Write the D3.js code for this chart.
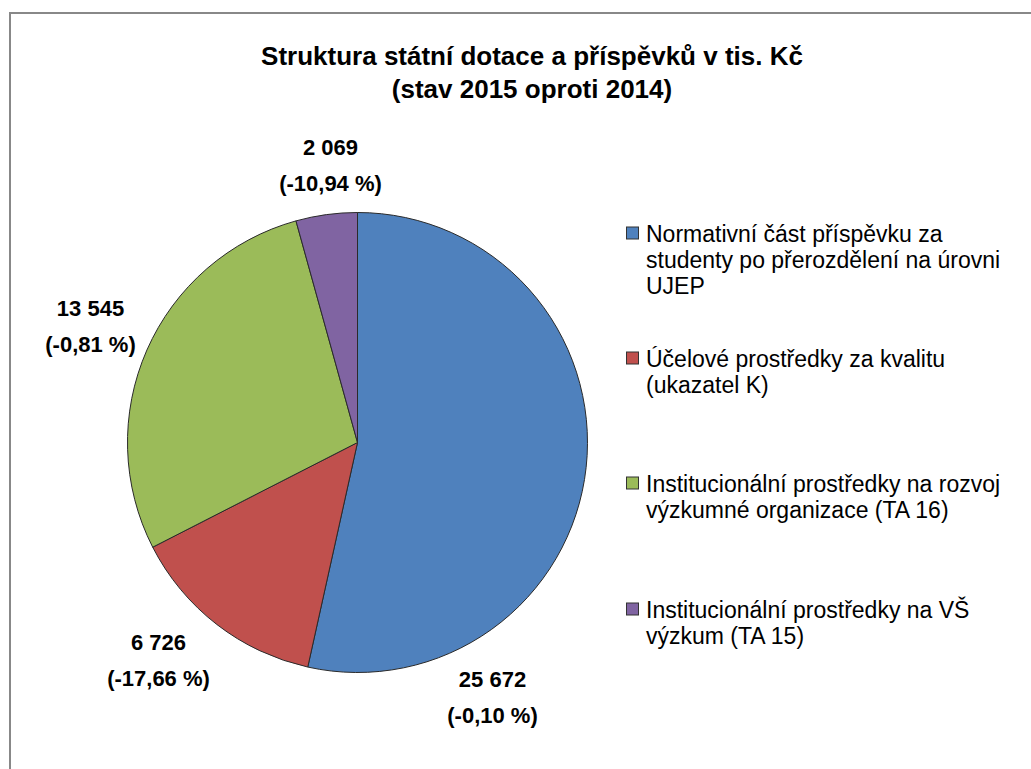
<!DOCTYPE html>
<html>
<head>
<meta charset="utf-8">
<script src="https://cdn.jsdelivr.net/npm/d3@7"></script>
<style>
  html, body { margin: 0; padding: 0; background: #fff; }
  svg { display: block; }
  text { font-family: "Liberation Sans", Arial, sans-serif; fill: #000; }
</style>
</head>
<body>
<svg id="chart" width="1031" height="769"></svg>
<script>
// ---- data ----
const titleLines = ["Struktura státní dotace a příspěvků v tis. Kč", "(stav 2015 oproti 2014)"];
const categories = [
  "Normativní část příspěvku za studenty po přerozdělení na úrovni UJEP",
  "Účelové prostředky za kvalitu (ukazatel K)",
  "Institucionální prostředky na rozvoj výzkumné organizace (TA 16)",
  "Institucionální prostředky na VŠ výzkum (TA 15)"
];
const legendLines = [
  ["Normativní část příspěvku za", "studenty po přerozdělení na úrovni", "UJEP"],
  ["Účelové prostředky za kvalitu", "(ukazatel K)"],
  ["Institucionální prostředky na rozvoj", "výzkumné organizace (TA 16)"],
  ["Institucionální prostředky na VŠ", "výzkum (TA 15)"]
];
const values = [25672, 6726, 13545, 2069];
const valueLabels = ["25 672", "6 726", "13 545", "2 069"];
const changeLabels = ["(-0,10 %)", "(-17,66 %)", "(-0,81 %)", "(-10,94 %)"];
const colors = ["#4F81BD", "#C0504D", "#9BBB59", "#8064A2"];

// ---- layout ----
const W = 1031, H = 769;
const cx = 357.5, cy = 442.5, R = 230;
// label anchor positions relative to pie centre (manually placed in the source chart)
const labelPos = [[135, 254], [-199, 217], [-267, -117], [-27, -278]];

const svg = d3.select("#chart");

// frame
svg.append("rect")
  .attr("x", 10).attr("y", 13)
  .attr("width", W + 20).attr("height", H + 20)
  .attr("fill", "#fff").attr("stroke", "#888").attr("stroke-width", 2);

// title
svg.append("g").selectAll("text").data(titleLines).join("text")
  .attr("x", 532).attr("y", (d, i) => 65 + i * 33)
  .attr("text-anchor", "middle")
  .style("font-size", "26px").style("font-weight", "bold")
  .text(d => d);

// pie
const pie = d3.pie().sort(null).value(d => d);
const arcs = pie(values);
const arc = d3.arc().innerRadius(0).outerRadius(R);

const g = svg.append("g").attr("transform", `translate(${cx},${cy})`);
g.selectAll("path").data(arcs).join("path")
  .attr("d", arc)
  .attr("fill", (d, i) => colors[i])
  .attr("stroke", "#2a2a2a").attr("stroke-width", 1)
  .attr("stroke-linejoin", "round");

// data labels
const lab = g.selectAll("g.lab").data(arcs).join("g")
  .attr("class", "lab")
  .attr("transform", (d, i) => `translate(${labelPos[i][0]},${labelPos[i][1]})`);
lab.append("text")
  .attr("text-anchor", "middle").attr("y", -10)
  .style("font-size", "22px").style("font-weight", "bold")
  .text((d, i) => valueLabels[i]);
lab.append("text")
  .attr("text-anchor", "middle").attr("y", 26)
  .style("font-size", "22px").style("font-weight", "bold")
  .text((d, i) => changeLabels[i]);

// legend
const legendY = [233, 358, 483, 609];
const lg = svg.append("g").selectAll("g").data(categories).join("g")
  .attr("transform", (d, i) => `translate(626,${legendY[i]})`);
lg.append("rect")
  .attr("x", 0.5).attr("y", -6).attr("width", 12).attr("height", 12)
  .attr("fill", (d, i) => colors[i]).attr("stroke", "#333").attr("stroke-width", 1);
lg.each(function (d, i) {
  d3.select(this).selectAll("text").data(legendLines[i]).join("text")
    .attr("x", 20).attr("y", (t, j) => 8.5 + j * 26)
    .style("font-size", "23px")
    .text(t => t);
});
</script>
</body>
</html>
